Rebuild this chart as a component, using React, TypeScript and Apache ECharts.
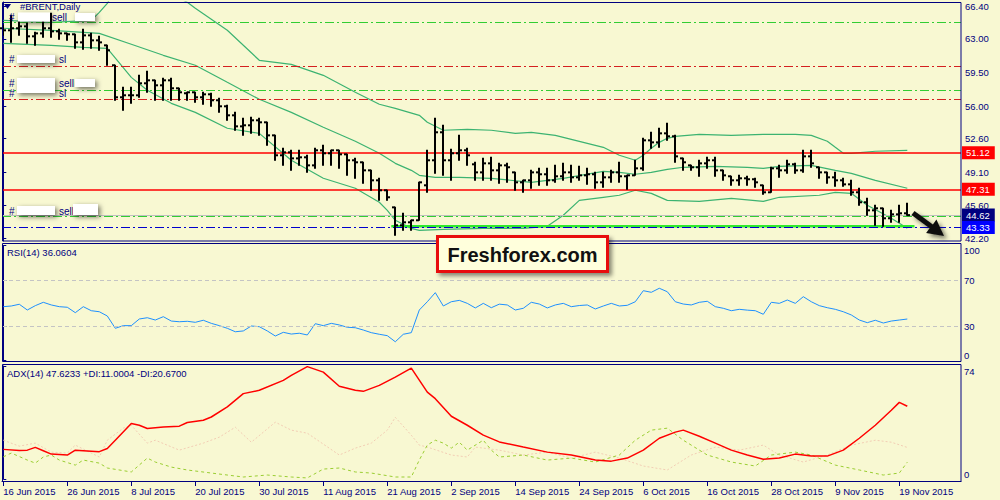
import React, { useEffect, useRef } from "react";
import * as echarts from "echarts";

// ---------- data ----------
const dateLabels = ["16 Jun 2015", "26 Jun 2015", "8 Jul 2015", "20 Jul 2015", "30 Jul 2015", "11 Aug 2015", "21 Aug 2015", "2 Sep 2015", "14 Sep 2015", "24 Sep 2015", "6 Oct 2015", "16 Oct 2015", "28 Oct 2015", "9 Nov 2015", "19 Nov 2015"];
const barsPerLabel = 8;
const priceTicks = [42.2, 45.6, 49.1, 52.6, 56.0, 59.5, 63.0, 66.4];
const rsiTicks = [0, 30, 70, 100];
const rsiLevels = [70, 30];
const adxTicks = [0, 74];

const opens = [64.11, 63.90, 64.11, 64.31, 63.27, 63.58, 64.11, 63.79, 63.58, 63.48, 62.64, 63.37, 62.85, 62.33, 60.25, 56.91, 57.12, 57.12, 58.37, 58.68, 58.16, 58.68, 57.85, 57.33, 57.43, 56.91, 57.22, 56.60, 55.97, 55.03, 53.88, 53.99, 54.51, 54.30, 52.94, 50.86, 51.17, 50.54, 50.65, 49.81, 51.38, 51.07, 51.38, 50.96, 50.34, 50.13, 49.29, 48.25, 47.21, 45.43, 43.56, 43.87, 44.08, 47.73, 50.34, 53.26, 50.34, 51.07, 51.38, 49.92, 49.08, 50.02, 49.29, 49.81, 49.08, 48.04, 48.25, 49.08, 48.88, 48.25, 48.67, 49.08, 48.56, 48.77, 48.88, 48.04, 48.56, 49.08, 48.67, 48.77, 49.50, 52.42, 52.21, 53.15, 52.84, 50.54, 49.81, 49.61, 50.02, 50.34, 49.29, 48.67, 48.25, 48.46, 48.36, 47.73, 47.00, 49.50, 49.29, 49.92, 49.29, 50.75, 49.61, 49.08, 48.56, 48.25, 47.83, 47.00, 45.96, 45.12, 45.33, 44.29, 44.70, 44.81];
const highs = [64.42, 65.46, 64.94, 64.63, 63.69, 65.15, 65.67, 64.00, 63.58, 63.48, 64.00, 63.58, 63.27, 62.33, 60.25, 57.95, 57.95, 59.20, 59.62, 58.68, 58.89, 58.89, 57.85, 57.43, 57.43, 57.43, 57.33, 56.80, 56.07, 55.34, 54.72, 54.82, 54.72, 54.30, 52.94, 51.59, 51.38, 51.38, 50.86, 51.59, 51.90, 51.38, 51.38, 50.96, 50.54, 50.13, 49.29, 48.46, 47.21, 45.43, 44.81, 44.08, 48.04, 51.38, 54.72, 53.99, 51.48, 52.94, 51.59, 50.13, 50.54, 50.65, 50.02, 50.02, 49.08, 48.25, 49.29, 49.50, 49.50, 49.81, 50.02, 49.81, 49.71, 49.50, 49.08, 49.08, 49.29, 50.13, 48.77, 50.34, 52.63, 53.26, 53.68, 54.20, 52.94, 50.54, 49.81, 50.34, 50.65, 50.65, 49.29, 48.67, 48.77, 48.67, 48.46, 47.73, 49.61, 49.81, 50.34, 50.02, 51.38, 51.38, 49.61, 49.08, 49.08, 48.46, 48.25, 47.42, 46.37, 45.64, 45.33, 45.12, 45.64, 45.85];
const lows = [63.37, 62.64, 63.37, 62.54, 62.33, 63.17, 63.17, 62.96, 62.85, 62.02, 61.91, 62.02, 61.81, 60.25, 56.60, 55.55, 56.28, 56.91, 57.43, 56.60, 56.60, 56.60, 56.60, 56.60, 56.39, 56.18, 55.97, 55.34, 54.51, 53.47, 52.94, 53.15, 52.94, 51.90, 50.34, 49.81, 49.29, 49.81, 49.08, 49.50, 49.81, 49.81, 49.50, 48.77, 48.46, 47.94, 47.21, 46.16, 46.16, 42.51, 43.03, 43.03, 44.08, 47.00, 48.98, 48.77, 48.25, 50.34, 49.81, 48.25, 48.25, 48.25, 47.94, 48.04, 47.21, 47.00, 47.42, 47.73, 47.73, 48.04, 48.25, 48.04, 48.25, 47.83, 47.42, 47.52, 48.04, 48.04, 47.31, 48.77, 49.29, 51.59, 51.69, 52.42, 50.13, 49.29, 49.29, 48.67, 49.50, 48.67, 48.25, 47.73, 47.73, 47.73, 47.52, 46.79, 47.00, 48.56, 48.98, 48.98, 49.08, 49.61, 48.46, 47.94, 47.63, 47.63, 46.69, 45.64, 44.60, 43.56, 43.45, 43.87, 43.87, 44.60];
const closes = [63.90, 64.11, 64.31, 63.27, 63.58, 64.11, 63.79, 63.58, 63.48, 62.64, 63.37, 62.85, 62.64, 61.81, 56.91, 57.12, 57.12, 58.37, 58.68, 58.16, 58.68, 57.85, 57.43, 57.43, 56.91, 57.22, 56.60, 55.97, 55.03, 53.88, 53.99, 54.51, 54.30, 52.94, 50.86, 51.17, 50.54, 50.65, 49.81, 51.38, 51.07, 51.38, 50.96, 50.34, 50.13, 49.29, 48.25, 47.21, 46.48, 43.56, 43.87, 44.08, 48.04, 50.34, 53.26, 50.34, 51.07, 51.38, 50.86, 49.08, 50.02, 49.29, 49.81, 49.61, 48.04, 48.25, 49.08, 48.88, 48.25, 48.67, 49.08, 48.56, 48.77, 48.88, 48.04, 48.56, 49.08, 48.67, 48.77, 49.50, 52.42, 52.21, 53.15, 52.84, 50.75, 50.13, 49.61, 50.02, 50.34, 49.29, 48.77, 48.25, 48.46, 48.36, 48.04, 47.00, 49.50, 49.29, 49.92, 49.29, 50.75, 50.02, 49.08, 48.56, 48.25, 47.83, 47.00, 45.96, 45.12, 45.33, 44.29, 44.70, 44.81, 44.62];

// Bollinger bands (20,2): [bar index, price]
const bbUpper = [[0, 64.94], [6, 64.73], [11, 64.94], [12, 65.77], [13, 66.71], [14, 68.1], [18, 69.5], [21, 67.6], [22, 67.23], [23, 66.82], [24, 66.19], [28, 63.90], [32, 60.77], [36, 60.35], [40, 59.20], [44, 57.43], [47, 56.18], [49, 55.76], [52, 55.03], [53, 54.30], [55, 53.47], [58, 53.57], [61, 53.47], [64, 53.15], [66, 53.26], [69, 52.94], [72, 52.32], [75, 51.69], [77, 50.86], [79, 50.34], [80, 50.86], [81, 51.59], [82, 52.21], [83, 52.63], [84, 52.84], [87, 53.05], [91, 52.94], [95, 53.05], [99, 53.05], [101, 52.94], [103, 52.32], [104, 51.69], [105, 51.07], [106, 51.07], [109, 51.28], [113, 51.38]];
const bbMiddle = [[0, 64.11], [6, 63.90], [12, 63.58], [16, 62.44], [20, 61.29], [24, 60.25], [28, 58.47], [32, 56.70], [36, 55.34], [40, 53.78], [44, 52.32], [47, 51.07], [49, 50.02], [51, 49.29], [52, 48.77], [54, 48.56], [57, 48.56], [61, 48.46], [66, 48.04], [70, 48.46], [75, 49.19], [77, 49.08], [79, 48.88], [81, 49.08], [83, 49.40], [85, 49.61], [89, 49.71], [93, 49.61], [95, 49.50], [97, 49.71], [101, 49.81], [104, 49.29], [106, 48.98], [109, 48.25], [113, 47.42]];
const bbLower = [[0, 62.54], [6, 62.33], [10, 62.12], [13, 62.02], [16, 58.99], [18, 57.64], [21, 56.28], [24, 55.34], [28, 53.68], [32, 53.15], [36, 50.34], [40, 48.46], [44, 47.42], [47, 45.96], [48, 45.12], [49, 44.08], [51, 43.24], [52, 43.03], [55, 43.14], [60, 43.24], [65, 43.24], [68, 43.45], [70, 44.60], [72, 46.16], [75, 46.48], [77, 46.69], [79, 47.21], [81, 46.89], [83, 46.16], [87, 46.06], [91, 46.37], [95, 46.06], [97, 46.48], [102, 46.69], [104, 47.00], [106, 46.89], [108, 45.64], [111, 44.29], [113, 43.24]];

// horizontal levels
const redLevels = [51.12, 47.31];
const greenDashLevels = [64.78, 57.69, 44.50];
const redDashLevels = [60.19, 56.70];
const bidLevel = 44.62;
const blueLevel = 43.33;
const supportLine = [[48.5, 43.45], [113.9, 43.45]];

// RSI(14), one value per bar
const rsi = [46.8, 47.4, 48.9, 43.9, 47.7, 50.6, 48.3, 46.8, 46.3, 41.6, 46.8, 43.3, 42.4, 38.7, 28.0, 30.3, 30.3, 36.1, 37.2, 35.2, 38.1, 34.3, 33.7, 34.1, 33.2, 35.0, 32.3, 30.3, 28.0, 25.0, 25.7, 30.0, 29.4, 25.7, 21.3, 24.5, 23.0, 23.7, 22.2, 32.0, 30.3, 32.3, 30.9, 28.9, 28.5, 26.5, 24.2, 22.8, 21.6, 16.3, 22.8, 24.2, 43.9, 51.1, 59.0, 47.4, 51.1, 52.3, 49.7, 45.7, 49.7, 45.9, 49.0, 48.3, 43.9, 45.4, 50.6, 49.1, 45.7, 48.3, 49.7, 46.8, 47.8, 48.3, 44.8, 47.4, 49.7, 47.4, 48.0, 51.1, 60.7, 59.3, 62.8, 59.8, 51.1, 49.1, 48.3, 50.6, 51.5, 46.8, 45.4, 43.3, 44.5, 43.8, 43.3, 40.2, 50.6, 49.7, 52.6, 49.7, 55.5, 51.1, 47.7, 45.9, 44.5, 42.4, 39.6, 35.2, 32.9, 35.0, 32.6, 34.3, 35.2, 36.06];

// ADX(14): [bar index, value]
const adxMain = [[0, 19.4], [2, 18.6], [3, 18.9], [4, 20.7], [5, 18.5], [6, 16.3], [8, 15.7], [9, 18.9], [12, 17.9], [13, 20.0], [14, 25.4], [16, 36.3], [17, 35.2], [18, 33.1], [20, 34.1], [22, 34.6], [23, 37.0], [25, 38.5], [26, 40.6], [28, 47.2], [30, 55.9], [32, 58.1], [35, 64.6], [36, 67.8], [38, 73.6], [40, 70.0], [42, 60.7], [44, 58.1], [45, 57.4], [47, 61.3], [49, 66.7], [51, 72.6], [53, 56.9], [54, 52.6], [56, 41.1], [58, 35.2], [60, 28.7], [62, 24.3], [65, 20.9], [68, 17.6], [71, 15.7], [74, 12.4], [76, 11.7], [78, 13.7], [80, 18.9], [82, 26.7], [84, 30.7], [85, 32.0], [87, 28.0], [89, 23.5], [91, 18.9], [93, 15.7], [95, 13.0], [97, 13.7], [99, 16.3], [101, 15.0], [103, 15.0], [105, 18.9], [107, 26.7], [109, 35.2], [111, 45.0], [112, 50.2], [113, 47.62]];
const plusDI = [[0, 14.5], [1, 17.0], [3, 12.4], [4, 10.4], [5, 14.4], [6, 15.7], [7, 12.4], [9, 9.1], [10, 12.4], [12, 10.4], [13, 7.2], [16, 4.6], [18, 13.7], [19, 11.1], [21, 7.8], [23, 5.9], [26, 3.9], [30, 1.3], [33, 2.6], [36, 1.3], [38, 0.7], [40, 6.5], [42, 7.2], [44, 4.6], [46, 3.9], [49, 1.3], [51, 1.3], [52, 12.4], [53, 22.2], [54, 25.4], [55, 23.5], [56, 20.2], [57, 24.1], [58, 18.9], [60, 25.4], [61, 18.9], [62, 14.4], [65, 15.7], [68, 12.4], [71, 13.7], [74, 11.1], [77, 15.7], [79, 25.4], [81, 32.0], [83, 33.3], [85, 25.4], [88, 15.7], [91, 11.1], [94, 8.5], [96, 15.7], [99, 17.6], [101, 15.7], [104, 9.1], [107, 5.9], [110, 2.6], [112, 3.9], [113, 11.0]];
const minusDI = [[0, 25.4], [2, 21.5], [4, 23.5], [6, 17.6], [8, 17.0], [9, 22.2], [12, 14.4], [13, 25.4], [15, 33.3], [16, 35.2], [18, 23.5], [19, 25.4], [22, 18.9], [25, 23.5], [27, 27.4], [29, 33.9], [31, 24.1], [34, 37.2], [36, 32.0], [38, 30.0], [42, 15.7], [44, 20.2], [46, 23.5], [48, 32.0], [49, 40.4], [51, 28.7], [52, 22.2], [53, 20.9], [56, 15.7], [58, 14.4], [59, 20.9], [62, 18.9], [65, 15.7], [68, 17.6], [71, 13.7], [74, 17.6], [77, 13.7], [80, 8.5], [83, 5.9], [86, 15.7], [89, 20.9], [92, 18.9], [95, 22.2], [97, 15.7], [100, 11.1], [103, 15.7], [106, 22.2], [109, 25.4], [111, 24.1], [113, 20.67]];

// ---------- styling ----------
const NAVY = "#000080";
const FONT = "Liberation Sans";
const BG = "#F8F8D2";
const BB = "#3CB371";
const FS = 9.5;

const X_MIN = -1.3 / 8;
const X_MAX = X_MIN + 959 / 8;

const txt = (text: string, x: number, y: number, size = FS, extra: any = {}) => ({
  type: "text",
  silent: true,
  z: 60,
  style: {
    text, x, y, fill: NAVY, font: `${size}px "${FONT}"`,
    textVerticalAlign: "middle", verticalAlign: "middle", textAlign: "left", align: "left", ...extra,
  },
});
const whiteBox = (x: number, y: number, w: number, h: number) => ({
  type: "rect", silent: true, z: 61,
  shape: { x, y, width: w, height: h },
  style: { fill: "#ffffff", shadowBlur: 5, shadowOffsetX: 2, shadowOffsetY: 2, shadowColor: "rgba(0,0,0,0.55)" },
});
const frame = (y: number, h: number) => ({
  type: "rect", silent: true, z: 50,
  shape: { x: 2.5, y, width: 958.5, height: h },
  style: { fill: "none", stroke: NAVY, lineWidth: 1 },
});

const edgeRich = {
  top: { padding: [10, 0, 0, 0], color: NAVY, fontSize: FS, fontFamily: FONT },
  bot: { padding: [0, 0, 10, 0], color: NAVY, fontSize: FS, fontFamily: FONT },
};

function buildOption() {
  const bars = opens.map((o, i) => [i, o, highs[i], lows[i], closes[i]]);
  const labelTicks = dateLabels.map((_, i) => i * barsPerLabel);
  const hl = (v: number, color: string, type: any, width = 1, label: any = { show: false }) => ({
    yAxis: v, lineStyle: { color, type, width }, label,
  });
  const boxLabel = (v: number, bg: string) => ({
    show: true, position: "end", distance: 1, formatter: v.toFixed(2),
    backgroundColor: bg, color: "#ffffff", fontSize: FS, fontFamily: FONT,
    lineHeight: 11, padding: [1, 5, 1, 4],
  });
  const dashDot = [9, 3, 2, 3];

  const lineBase = { type: "line", symbol: "none", showSymbol: false, silent: true };

  return {
    animation: false,
    backgroundColor: BG,
    textStyle: { fontFamily: FONT },
    grid: [
      { left: 2, top: 2, width: 959, height: 239, outerBoundsMode: "none" },
      { left: 2, top: 245.5, width: 959, height: 115, outerBoundsMode: "none" },
      { left: 2, top: 366, width: 959, height: 113, outerBoundsMode: "none" },
    ],
    xAxis: [0, 1, 2].map((g) => ({
      type: "value", gridIndex: g, min: X_MIN, max: X_MAX, show: g === 2,
      position: "bottom", offset: g === 2 ? 2 : 0,
      splitLine: { show: false },
      axisLine: { show: true, onZero: false, lineStyle: { color: NAVY, width: 1 } },
      axisTick: { show: true, customValues: labelTicks, length: 5, lineStyle: { color: NAVY } },
      axisLabel: {
        customValues: labelTicks, color: NAVY, fontSize: FS, fontFamily: FONT, align: "left", margin: 5,
        formatter: (v: number) => dateLabels[Math.round(v / barsPerLabel)] ?? "",
      },
    })),
    yAxis: [
      {
        type: "value", gridIndex: 0, position: "right", min: 41.92, max: 66.85,
        splitLine: { show: false },
        axisLine: { show: true, lineStyle: { color: NAVY } },
        axisTick: { show: true, customValues: priceTicks, length: 3, lineStyle: { color: NAVY } },
        axisLabel: { customValues: priceTicks, color: NAVY, fontSize: FS, fontFamily: FONT, margin: 4, formatter: (v: number) => v.toFixed(2) },
      },
      {
        type: "value", gridIndex: 1, position: "right", min: 0, max: 100,
        splitLine: { show: false },
        axisLine: { show: true, lineStyle: { color: NAVY } },
        axisTick: { show: true, customValues: rsiTicks, length: 3, lineStyle: { color: NAVY } },
        axisLabel: {
          customValues: rsiTicks, color: NAVY, fontSize: FS, fontFamily: FONT, margin: 3,
          formatter: (v: number) => (v === 100 ? "{top|100}" : v === 0 ? "{bot|0}" : String(v)),
          rich: edgeRich,
        },
      },
      {
        type: "value", gridIndex: 2, position: "right", min: 0, max: 74,
        splitLine: { show: false },
        axisLine: { show: true, lineStyle: { color: NAVY } },
        axisTick: { show: true, customValues: adxTicks, length: 3, lineStyle: { color: NAVY } },
        axisLabel: {
          customValues: adxTicks, color: NAVY, fontSize: FS, fontFamily: FONT, margin: 3,
          formatter: (v: number) => (v === 74 ? "{top|74}" : v === 0 ? "{bot|0}" : String(v)),
          rich: edgeRich,
        },
      },
    ],
    series: [
      { ...lineBase, name: "BB upper", xAxisIndex: 0, yAxisIndex: 0, data: bbUpper, lineStyle: { color: BB, width: 1.2 }, z: 2 },
      {
        ...lineBase, name: "BB middle", xAxisIndex: 0, yAxisIndex: 0, data: bbMiddle, lineStyle: { color: BB, width: 1.2 }, z: 2,
        markLine: {
          silent: true, symbol: "none", animation: false,
          data: [
            ...greenDashLevels.map((v) => hl(v, "#32CD32", dashDot, 1.2)),
            ...redDashLevels.map((v) => hl(v, "#D42020", dashDot, 1.2)),
            hl(bidLevel, "#C0C0C0", "solid", 1, boxLabel(bidLevel, "#000080")),
            hl(blueLevel, "#0000CD", dashDot, 1.2, boxLabel(blueLevel, "#0000FF")),
            ...redLevels.map((v) => hl(v, "#FF0000", "solid", 1.5, boxLabel(v, "#FF0000"))),
          ],
        },
      },
      { ...lineBase, name: "BB lower", xAxisIndex: 0, yAxisIndex: 0, data: bbLower, lineStyle: { color: BB, width: 1.2 }, z: 2 },
      { ...lineBase, name: "Support", xAxisIndex: 0, yAxisIndex: 0, data: supportLine, lineStyle: { color: "#2EE82E", width: 2.5 }, z: 3 },
      {
        type: "custom", name: "BRENT", xAxisIndex: 0, yAxisIndex: 0, data: bars, z: 5, silent: true,
        encode: { x: 0, y: [1, 2, 3, 4] },
        renderItem: (_p: any, api: any) => {
          const i = api.value(0);
          const o = api.coord([i, api.value(1)]);
          const h = api.coord([i, api.value(2)]);
          const l = api.coord([i, api.value(3)]);
          const c = api.coord([i, api.value(4)]);
          const x = Math.round(o[0]);
          const st = { stroke: "#000000", lineWidth: 2 };
          return {
            type: "group",
            children: [
              { type: "line", shape: { x1: x, y1: h[1] - 0.5, x2: x, y2: l[1] + 0.5 }, style: st },
              { type: "line", shape: { x1: x - 3, y1: o[1], x2: x, y2: o[1] }, style: st },
              { type: "line", shape: { x1: x, y1: c[1], x2: x + 3, y2: c[1] }, style: st },
            ],
          };
        },
      },
      {
        ...lineBase, name: "RSI", xAxisIndex: 1, yAxisIndex: 1, data: rsi.map((v, i) => [i, v]),
        lineStyle: { color: "#1E90FF", width: 1 },
        markLine: {
          silent: true, symbol: "none", label: { show: false },
          lineStyle: { color: "#C4C4C4", type: [4, 3], width: 1 },
          data: rsiLevels.map((v) => ({ yAxis: v })),
        },
      },
      { ...lineBase, name: "-DI", xAxisIndex: 2, yAxisIndex: 2, data: minusDI, lineStyle: { color: "#F2CDB4", width: 1, type: [2, 2] } },
      { ...lineBase, name: "+DI", xAxisIndex: 2, yAxisIndex: 2, data: plusDI, lineStyle: { color: "#9ACD32", width: 1, type: [3, 3] } },
      { ...lineBase, name: "ADX", xAxisIndex: 2, yAxisIndex: 2, data: adxMain, lineStyle: { color: "#FF0000", width: 1.5 } },
    ],
    graphic: {
      elements: [
        frame(2.5, 238.5),
        frame(243.5, 118),
        frame(364.5, 117),
        { type: "polygon", silent: true, z: 60, shape: { points: [[4, 4], [11, 4], [7.5, 9]] }, style: { fill: NAVY } },
        txt("#BRENT,Daily", 20, 6.5, 9.5),
        // order annotations (redacted)
        txt("#", 9, 17, 10), whiteBox(18, 12.5, 32, 9), txt("sell", 52, 17, 10), whiteBox(75, 13, 20, 8),
        txt("#", 9, 59.5, 10), whiteBox(17, 55, 38, 8), txt("sl", 59, 59.5, 10),
        txt("#", 9, 93, 10), txt("sl", 59, 93, 10),
        txt("#", 9, 83, 10), whiteBox(17, 78, 38, 15), txt("sell", 59, 83, 10), whiteBox(75, 79, 20, 8),
        txt("#", 9, 211, 10), whiteBox(17, 206, 38, 9), txt("sell", 59, 211, 10), whiteBox(73, 204, 25, 11),
        // indicator captions
        txt("RSI(14) 36.0604", 7, 252.5),
        txt("ADX(14) 47.6233 +DI:11.0004 -DI:20.6700", 7, 373.5),
        // logo
        {
          type: "rect", silent: true, z: 70,
          shape: { x: 437.5, y: 236.5, width: 170, height: 35 },
          style: { fill: "#FFFFDC", stroke: "#E81010", lineWidth: 3, shadowBlur: 4, shadowOffsetX: 3, shadowOffsetY: 3, shadowColor: "rgba(0,0,0,0.45)" },
        },
        {
          type: "text", silent: true, z: 71,
          style: {
            text: "Freshforex.com", x: 522.5, y: 255, fill: "#111111", font: `bold 20px "${FONT}"`,
            textAlign: "center", align: "center", textVerticalAlign: "middle", verticalAlign: "middle",
          },
        },
        // arrow
        {
          type: "polygon", silent: true, z: 70,
          shape: { points: [[914.5, 210.9], [932.9, 224.4], [936.4, 219.6], [944.0, 236.0], [926.1, 233.1], [929.6, 228.3], [911.5, 215.1]] },
          style: { fill: "#111111", shadowBlur: 4, shadowOffsetX: 3, shadowOffsetY: 3, shadowColor: "rgba(0,0,0,0.5)" },
        },
      ],
    },
  };
}

export default function App() {
  const ref = useRef<HTMLDivElement>(null);
  useEffect(() => {
    if (!ref.current) return;
    const chart = echarts.init(ref.current, null, { renderer: "svg" });
    chart.setOption(buildOption() as any);
    return () => chart.dispose();
  }, []);
  return (
    <div
      ref={ref}
      style={{ position: "fixed", left: 0, top: 0, width: 1000, height: 500, background: BG }}
    />
  );
}
